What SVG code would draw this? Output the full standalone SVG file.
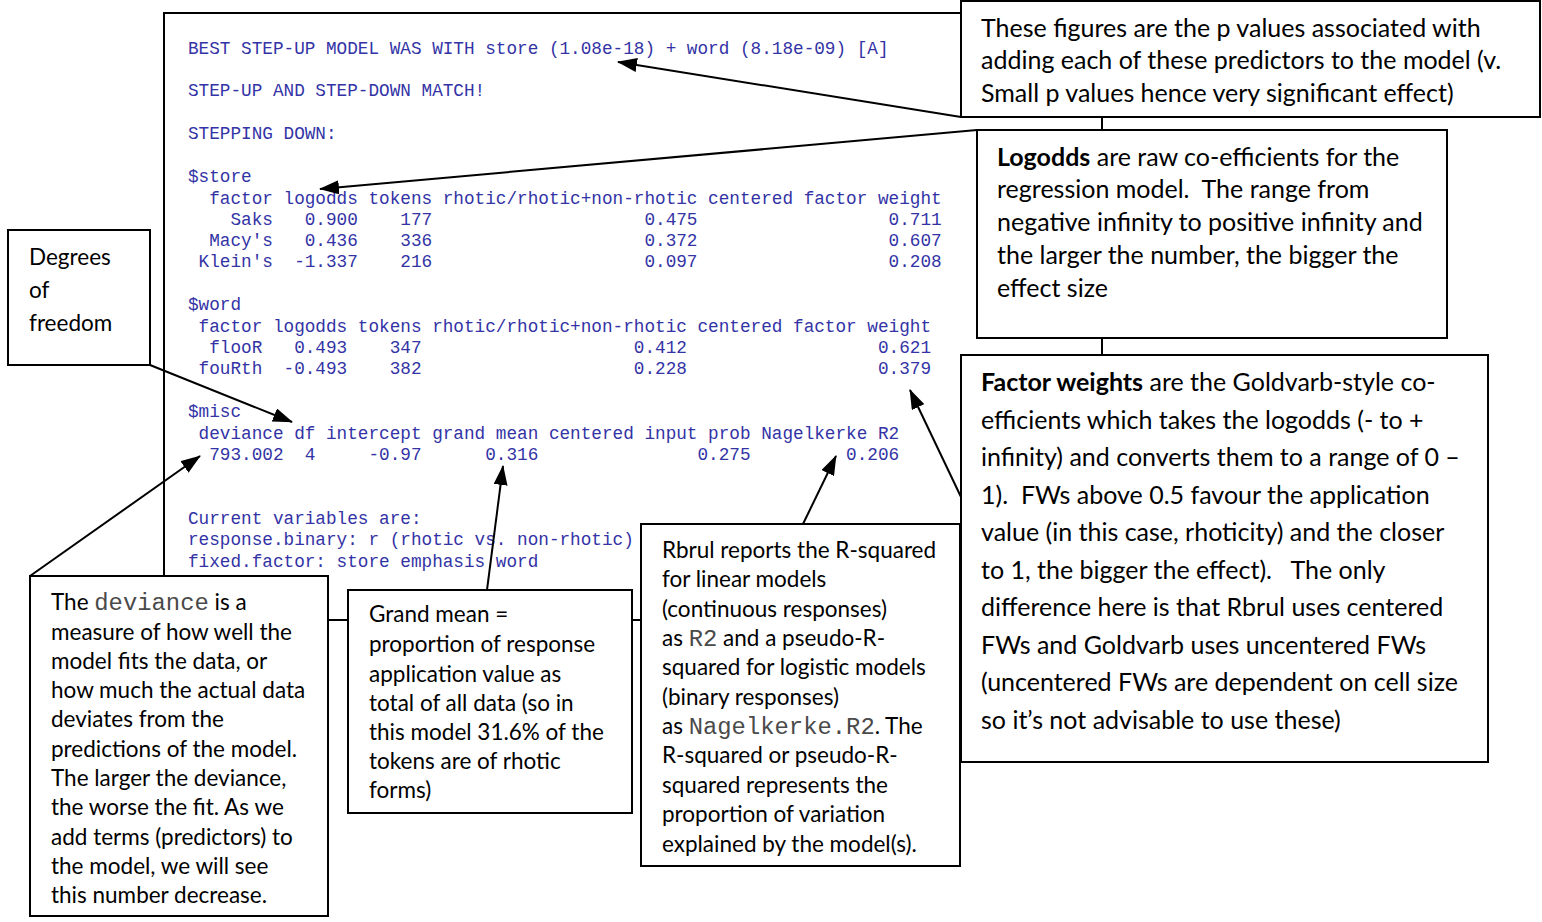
<svg xmlns="http://www.w3.org/2000/svg" width="1542" height="922" viewBox="0 0 1542 922" xml:space="preserve">
  <defs>
    <style>
      .frame { fill: #ffffff; stroke: #000000; stroke-width: 2; }
      .box { fill: #ffffff; stroke: #000000; stroke-width: 2; }
      .con { font-family: "Liberation Mono", "Courier New", monospace; font-size: 17.7px; fill: #3333a6; white-space: pre; }
      .note { font-family: Lato, "Liberation Sans", sans-serif; font-size: 22.5px; fill: #000000; white-space: pre; }
      .big { font-size: 25px; }
      .mono { font-family: "Liberation Mono", "Courier New", monospace; font-size: 1.06em; fill: #4a4a4a; }
      .b { font-weight: bold; }
      .link { stroke: #000000; stroke-width: 2; fill: none; marker-end: url(#head); }
    </style>
    <marker id="head" viewBox="0 0 20 14" refX="19" refY="7" markerWidth="20" markerHeight="14" markerUnits="userSpaceOnUse" orient="auto">
      <path d="M0,0 L20,7 L0,14 Z" fill="#000000"/>
    </marker>
  </defs>
  <rect width="1542" height="922" fill="#ffffff"/>

  <!-- Rbrul console output -->
  <g id="console">
    <rect class="frame" x="164" y="13" width="938" height="607"/>
    <text class="con" x="188" y="54">BEST STEP-UP MODEL WAS WITH store (1.08e-18) + word (8.18e-09) [A]</text>
    <text class="con" x="188" y="96">STEP-UP AND STEP-DOWN MATCH!</text>
    <text class="con" x="188" y="139">STEPPING DOWN:</text>
    <text class="con" x="188" y="182">$store</text>
    <text class="con" x="188" y="204">  factor logodds tokens rhotic/rhotic+non-rhotic centered factor weight</text>
    <text class="con" x="188" y="225">    Saks   0.900    177                    0.475                  0.711</text>
    <text class="con" x="188" y="246">  Macy's   0.436    336                    0.372                  0.607</text>
    <text class="con" x="188" y="267"> Klein's  -1.337    216                    0.097                  0.208</text>
    <text class="con" x="188" y="310">$word</text>
    <text class="con" x="188" y="332"> factor logodds tokens rhotic/rhotic+non-rhotic centered factor weight</text>
    <text class="con" x="188" y="353">  flooR   0.493    347                    0.412                  0.621</text>
    <text class="con" x="188" y="374"> fouRth  -0.493    382                    0.228                  0.379</text>
    <text class="con" x="188" y="417">$misc</text>
    <text class="con" x="188" y="439"> deviance df intercept grand mean centered input prob Nagelkerke R2</text>
    <text class="con" x="188" y="460">  793.002  4     -0.97      0.316               0.275         0.206</text>
    <text class="con" x="188" y="524">Current variables are:</text>
    <text class="con" x="188" y="545">response.binary: r (rhotic vs. non-rhotic)</text>
    <text class="con" x="188" y="567">fixed.factor: store emphasis word</text>
  </g>

  <!-- connectors -->
  <g id="connectors">
    <line class="link" x1="961" y1="117" x2="618" y2="62"/>
    <line class="link" x1="977" y1="130" x2="320" y2="189"/>
    <line class="link" x1="150" y1="365" x2="292" y2="422"/>
    <line class="link" x1="30" y1="576" x2="200" y2="456"/>
    <line class="link" x1="487" y1="590" x2="503" y2="466"/>
    <line class="link" x1="803" y1="524" x2="836" y2="456"/>
    <line class="link" x1="961" y1="497" x2="910" y2="390"/>
  </g>

  <!-- annotation boxes -->
  <g id="pvalues">
    <rect class="box" x="961" y="1" width="579" height="116"/>
    <text class="note big" x="981" y="37">These figures are the p values associated with</text>
    <text class="note big" x="981" y="69">adding each of these predictors to the model (v.</text>
    <text class="note big" x="981" y="102">Small p values hence very significant effect)</text>
  </g>

  <g id="logodds">
    <rect class="box" x="977" y="130" width="470" height="208"/>
    <text class="note big" x="997" y="166"><tspan class="b">Logodds</tspan> are raw co-efficients for the</text>
    <text class="note big" x="997" y="198">regression model.  The range from</text>
    <text class="note big" x="997" y="231">negative infinity to positive infinity and</text>
    <text class="note big" x="997" y="264">the larger the number, the bigger the</text>
    <text class="note big" x="997" y="297">effect size</text>
  </g>

  <g id="factor-weights">
    <rect class="box" x="961" y="355" width="527" height="407"/>
    <text class="note big" x="981" y="391"><tspan class="b">Factor weights</tspan> are the Goldvarb-style co-</text>
    <text class="note big" x="981" y="429">efficients which takes the logodds (- to +</text>
    <text class="note big" x="981" y="466">infinity) and converts them to a range of 0 –</text>
    <text class="note big" x="981" y="504">1).  FWs above 0.5 favour the application</text>
    <text class="note big" x="981" y="541">value (in this case, rhoticity) and the closer</text>
    <text class="note big" x="981" y="579">to 1, the bigger the effect).   The only</text>
    <text class="note big" x="981" y="616">difference here is that Rbrul uses centered</text>
    <text class="note big" x="981" y="654">FWs and Goldvarb uses uncentered FWs</text>
    <text class="note big" x="981" y="691">(uncentered FWs are dependent on cell size</text>
    <text class="note big" x="981" y="729">so it’s not advisable to use these)</text>
  </g>

  <g id="degrees-of-freedom">
    <rect class="box" x="8" y="230" width="142" height="135"/>
    <text class="note" x="29" y="265">Degrees</text>
    <text class="note" x="29" y="298">of</text>
    <text class="note" x="29" y="331">freedom</text>
  </g>

  <g id="deviance">
    <rect class="box" x="30" y="576" width="298" height="340"/>
    <text class="note" x="51" y="610">The <tspan class="mono">deviance</tspan> is a</text>
    <text class="note" x="51" y="640">measure of how well the</text>
    <text class="note" x="51" y="669">model fits the data, or</text>
    <text class="note" x="51" y="698">how much the actual data</text>
    <text class="note" x="51" y="727">deviates from the</text>
    <text class="note" x="51" y="757">predictions of the model.</text>
    <text class="note" x="51" y="786">The larger the deviance,</text>
    <text class="note" x="51" y="815">the worse the fit. As we</text>
    <text class="note" x="51" y="845">add terms (predictors) to</text>
    <text class="note" x="51" y="874">the model, we will see</text>
    <text class="note" x="51" y="903">this number decrease.</text>
  </g>

  <g id="grand-mean">
    <rect class="box" x="348" y="590" width="284" height="223"/>
    <text class="note" x="369" y="622">Grand mean =</text>
    <text class="note" x="369" y="652">proportion of response</text>
    <text class="note" x="369" y="682">application value as</text>
    <text class="note" x="369" y="711">total of all data (so in</text>
    <text class="note" x="369" y="740">this model 31.6% of the</text>
    <text class="note" x="369" y="769">tokens are of rhotic</text>
    <text class="note" x="369" y="798">forms)</text>
  </g>

  <g id="r-squared">
    <rect class="box" x="641" y="524" width="319" height="342"/>
    <text class="note" x="662" y="558">Rbrul reports the R-squared</text>
    <text class="note" x="662" y="587">for linear models</text>
    <text class="note" x="662" y="617">(continuous responses)</text>
    <text class="note" x="662" y="646">as <tspan class="mono">R2</tspan> and a pseudo-R-</text>
    <text class="note" x="662" y="675">squared for logistic models</text>
    <text class="note" x="662" y="705">(binary responses)</text>
    <text class="note" x="662" y="734">as <tspan class="mono">Nagelkerke.R2</tspan>. The</text>
    <text class="note" x="662" y="763">R-squared or pseudo-R-</text>
    <text class="note" x="662" y="793">squared represents the</text>
    <text class="note" x="662" y="822">proportion of variation</text>
    <text class="note" x="662" y="852">explained by the model(s).</text>
  </g>
</svg>
